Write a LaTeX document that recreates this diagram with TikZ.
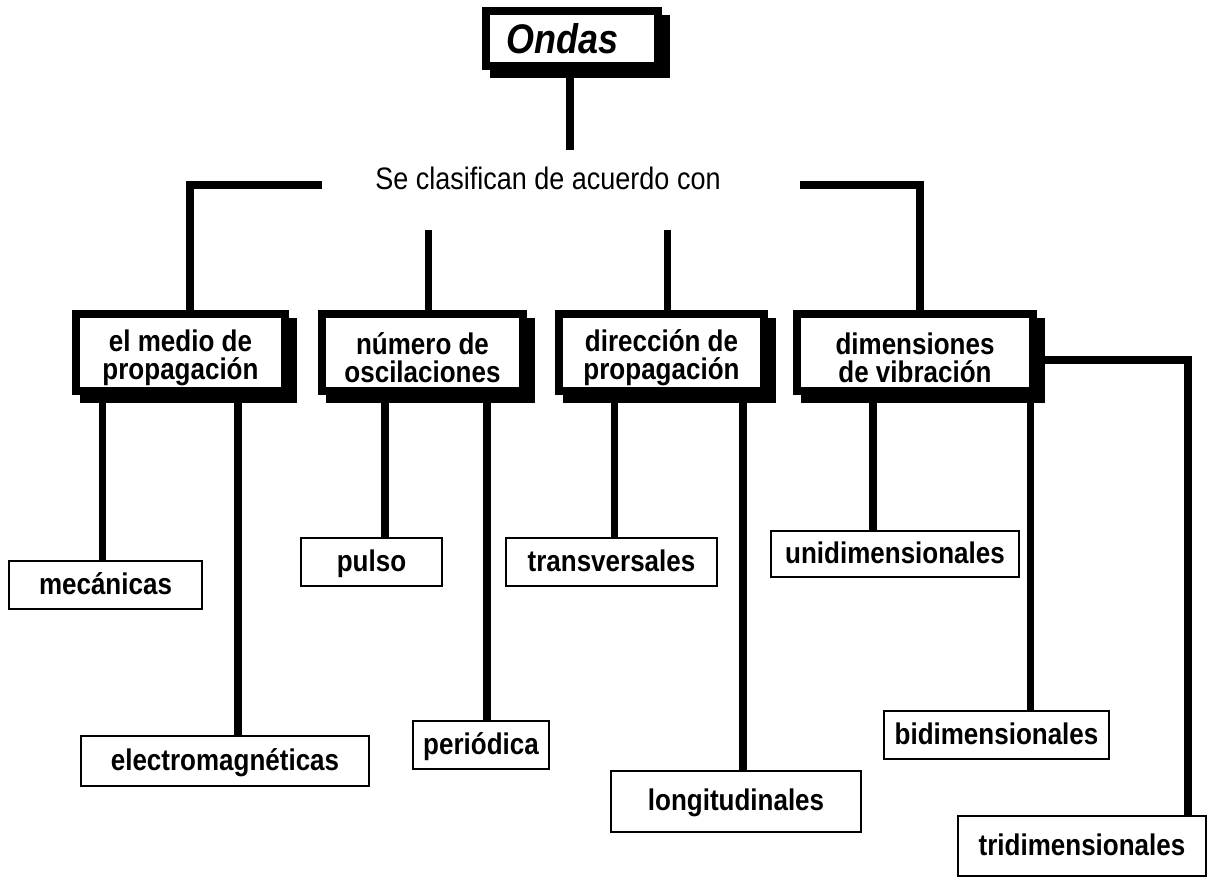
\documentclass[tikz,border=0pt]{standalone}
\usepackage{fontspec}
\setmainfont{Liberation Sans}
\usetikzlibrary{shadows}

\newcommand{\alto}[1]{\scalebox{1}[1.15]{#1}}
\newcommand{\dos}[2]{\rule{0pt}{32pt}\alto{#1}\\\alto{#2}}

\tikzset{
  caja/.style={draw, line width=8pt, fill=white, align=center, inner sep=0pt,
    drop shadow={shadow xshift=7.5pt, shadow yshift=-7.5pt, opacity=1,
      fill=black, draw=black, line width=8pt}},
  clase/.style={caja, minimum height=77pt,
    font=\bfseries\fontsize{26}{28}\selectfont},
  hoja/.style={draw, line width=2pt, fill=white, inner sep=0pt,
    text height=22pt, text depth=4pt,
    font=\bfseries\fontsize{26}{30}\selectfont},
  enlace/.style={line width=7.5pt}
}

\begin{document}
\begin{tikzpicture}[x=1pt,y=-1pt]
\useasboundingbox (0,0) rectangle (1211,878);

% titulo
\node[caja, font=\bfseries\itshape\fontsize{36}{36}\selectfont,
  minimum width=172pt, minimum height=55pt] (ondas) at (572,38.5) {\alto{Ondas}\hspace*{19pt}};
\node[font=\fontsize{27}{27}\selectfont, inner xsep=53pt, inner ysep=20pt,
  text height=19pt, text depth=21pt] (clasif) at (548,190) {\alto{Se clasifican de acuerdo con}};

% criterios
\node[clase, minimum width=209pt] (medio) at (180.5,352.5) {\dos{el medio de}{propagación}};
\node[clase, minimum width=201pt] (numero) at (422.5,352.5) {\dos{número de}{oscilaciones}};
\node[clase, minimum width=205pt] (direccion) at (661.5,352.5) {\dos{dirección de}{propagación}};
\node[clase, minimum width=236pt] (dimension) at (915,352.5) {\dos{dimensiones}{de vibración}};

% tipos
\node[hoja, minimum width=193pt, minimum height=48pt] (mecanicas) at (105.5,585) {\alto{mecánicas}};
\node[hoja, minimum width=288pt, minimum height=50pt] (electro) at (225,761) {\alto{electromagnéticas}};
\node[hoja, minimum width=141pt, minimum height=48pt] (pulso) at (371.5,562) {\alto{pulso}};
\node[hoja, minimum width=136pt, minimum height=48pt] (periodica) at (481,745) {\alto{periódica}};
\node[hoja, minimum width=211pt, minimum height=48pt] (transv) at (611.5,562) {\alto{transversales}};
\node[hoja, minimum width=250pt, minimum height=61pt] (longit) at (736,801.5) {\alto{longitudinales}};
\node[hoja, minimum width=248pt, minimum height=46pt] (unidim) at (895,554) {\alto{unidimensionales}};
\node[hoja, minimum width=225pt, minimum height=48pt] (bidim) at (996.5,735) {\alto{bidimensionales}};
\node[hoja, minimum width=248pt, minimum height=60pt] (tridim) at (1082,846) {\alto{tridimensionales}};

% enlaces superiores
\draw[enlace] ([xshift=-2pt]ondas.south) -- ([xshift=-2pt]ondas.south |- clasif.north);
\draw[enlace] ([yshift=5pt]clasif.west) -| ([xshift=9.5pt]medio.north);
\draw[enlace] ([xshift=26pt,yshift=5pt]clasif.east) -| ([xshift=5pt]dimension.north);
\draw[enlace] ([xshift=6pt]numero.north) -- ([xshift=6pt]numero.north |- clasif.south);
\draw[enlace] ([xshift=6pt]direccion.north) -- ([xshift=6pt]direccion.north |- clasif.south);

% enlaces inferiores
\draw[enlace] ([xshift=-3pt]mecanicas.north) -- ([xshift=-3pt]mecanicas.north |- medio.south);
\draw[enlace] ([xshift=13pt]electro.north) -- ([xshift=13pt]electro.north |- medio.south);
\draw[enlace] ([xshift=13.5pt]pulso.north) -- ([xshift=13.5pt]pulso.north |- numero.south);
\draw[enlace] ([xshift=6pt]periodica.north) -- ([xshift=6pt]periodica.north |- numero.south);
\draw[enlace] ([xshift=3pt]transv.north) -- ([xshift=3pt]transv.north |- direccion.south);
\draw[enlace] ([xshift=7pt]longit.north) -- ([xshift=7pt]longit.north |- direccion.south);
\draw[enlace] ([xshift=-22pt]unidim.north) -- ([xshift=-22pt]unidim.north |- dimension.south);
\draw[enlace] ([xshift=34pt]bidim.north) -- ([xshift=34pt]bidim.north |- dimension.south);
\draw[enlace] ([yshift=-7.5pt]dimension.east) -| ([xshift=106pt]tridim.north);
\end{tikzpicture}
\end{document}
